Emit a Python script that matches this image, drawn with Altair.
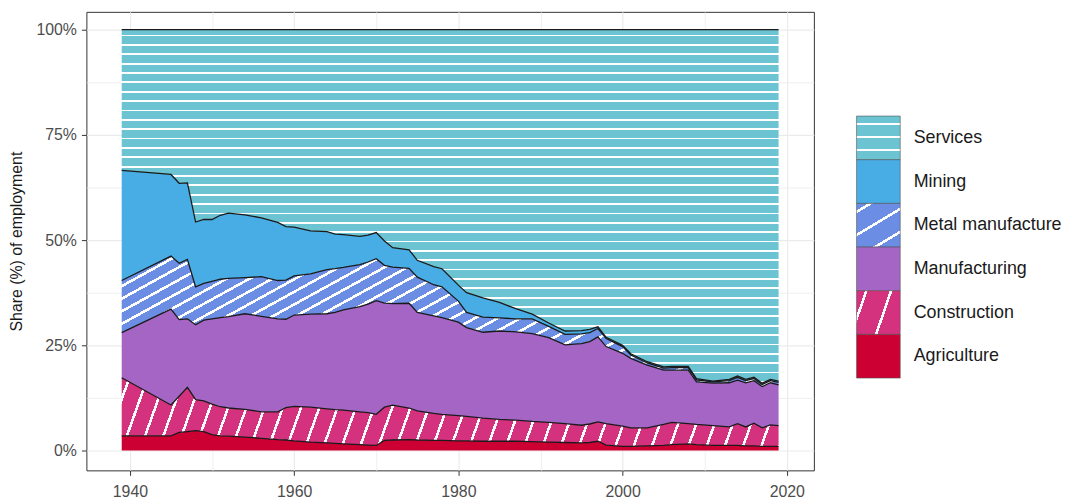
import altair as alt
import pandas as pd
import numpy as np

years = [1939, 1945, 1946, 1947, 1948, 1949, 1950, 1951, 1952, 1954,
         1956, 1958, 1959, 1960, 1962, 1964, 1965, 1966, 1968, 1969,
         1970, 1971, 1972, 1974, 1975, 1977, 1978, 1980, 1981, 1983,
         1985, 1987, 1989, 1991, 1993, 1995, 1996, 1997, 1998, 2000,
         2001, 2003, 2005, 2006, 2008, 2009, 2011, 2013, 2014, 2015,
         2016, 2017, 2018, 2019]

agriculture = [3.5, 3.5, 4.3, 4.5, 4.7, 4.5, 3.8, 3.5, 3.4, 3.2,
               2.9, 2.6, 2.5, 2.3, 2.0, 1.8, 1.7, 1.6, 1.4, 1.3,
               1.2, 2.4, 2.5, 2.6, 2.5, 2.4, 2.4, 2.3, 2.3, 2.2,
               2.2, 2.2, 2.1, 2.0, 1.9, 1.8, 1.9, 2.2, 1.3, 1.0,
               1.0, 1.1, 1.2, 1.4, 1.6, 1.4, 1.2, 1.2, 1.2, 1.1,
               1.1, 1.0, 1.0, 1.0]
construction = [13.8, 7.3, 8.6, 10.5, 7.4, 7.3, 7.2, 6.9, 6.7, 6.6,
                6.3, 6.6, 7.7, 8.2, 8.3, 8.1, 8.0, 8.0, 7.8, 7.7,
                7.4, 7.9, 8.3, 7.5, 6.9, 6.4, 6.2, 6.0, 5.8, 5.5,
                5.2, 5.0, 4.8, 4.7, 4.5, 4.2, 4.4, 4.6, 5.1, 4.8,
                4.4, 4.3, 5.0, 5.3, 4.8, 4.8, 4.7, 4.4, 5.2, 4.5,
                5.4, 4.4, 5.1, 4.9]
manufacturing = [10.7, 22.8, 18.2, 16.3, 17.8, 19.2, 20.3, 21.2, 21.7, 22.7,
                 22.7, 22.1, 21.0, 21.7, 22.1, 22.6, 23.1, 23.8, 25.0, 25.8,
                 27.0, 24.7, 24.1, 24.9, 23.4, 23.2, 23.0, 22.2, 21.1, 20.4,
                 21.0, 21.0, 20.9, 20.1, 18.7, 19.4, 19.6, 20.2, 18.3, 17.3,
                 16.5, 14.9, 12.9, 12.4, 12.7, 10.1, 10.1, 10.5, 10.3, 10.5,
                 10.1, 9.8, 10.0, 9.7]
metal = [12.4, 12.6, 13.4, 14.1, 9.0, 8.7, 8.9, 9.1, 9.1, 8.6,
         9.4, 9.1, 9.3, 9.3, 9.6, 10.5, 10.4, 10.1, 10.0, 10.0,
         10.0, 9.0, 8.7, 8.3, 8.4, 7.4, 7.3, 5.0, 3.6, 3.6,
         3.1, 3.1, 3.5, 2.7, 2.5, 2.3, 2.1, 2.0, 1.9, 1.6,
         0.8, 0.5, 0.5, 0.6, 0.6, 0.5, 0.3, 0.5, 0.7, 0.5,
         0.5, 0.5, 0.5, 0.6]
mining = [26.2, 19.4, 19.0, 18.2, 15.4, 15.2, 14.7, 15.2, 15.5, 14.9,
          14.0, 13.8, 12.7, 11.6, 10.2, 9.0, 8.2, 7.8, 6.7, 6.4,
          6.2, 5.8, 4.6, 4.4, 4.0, 4.3, 4.3, 3.8, 4.7, 4.6,
          3.7, 2.4, 1.1, 0.8, 0.8, 0.8, 0.8, 0.4, 0.3, 0.3,
          0.3, 0.3, 0.3, 0.3, 0.3, 0.3, 0.2, 0.3, 0.3, 0.3,
          0.3, 0.3, 0.3, 0.3]
services = [33.4, 34.4, 36.5, 36.4, 45.7, 45.1, 45.1, 44.1, 43.6, 44.0,
            44.7, 45.8, 46.8, 46.9, 47.8, 48.0, 48.6, 48.7, 49.1, 48.8,
            48.2, 50.2, 51.8, 52.3, 54.8, 56.3, 56.8, 60.7, 62.5, 63.7,
            64.8, 66.3, 67.6, 69.7, 71.6, 71.5, 71.2, 70.6, 73.1, 75.0,
            77.0, 78.9, 80.1, 80.0, 80.0, 82.9, 83.5, 83.1, 82.3, 83.1,
            82.6, 84.0, 83.1, 83.5]

sectors = ["Agriculture", "Construction", "Manufacturing",
           "Metal manufacture", "Mining", "Services"]
series = [agriculture, construction, manufacturing, metal, mining, services]
colors = {"Agriculture": "#cc0033", "Construction": "#d4327f",
          "Manufacturing": "#a565c5", "Metal manufacture": "#6b8de3",
          "Mining": "#48ade4", "Services": "#6cc4d2"}

rows = []
for order, (s, vals) in enumerate(zip(sectors, series)):
    for y, v in zip(years, vals):
        rows.append({"year": y, "sector": s, "value": v, "order": order})
df = pd.DataFrame(rows)

# plot geometry
W_PLOT, H_PLOT = 733, 462
X_DOM = [1934.7, 2023.3]
Y_DOM = [-4.72, 104.25]
ppy = W_PLOT / (X_DOM[1] - X_DOM[0])
ppp = H_PLOT / (Y_DOM[1] - Y_DOM[0])

arr = np.array(series)
tot = arr.sum(axis=0)
cum = np.cumsum(arr, axis=0) / tot * 100.0
lows = np.vstack([np.zeros(len(years)), cum[:-1]])


def stripes(base, nx, ny, period, width, W, H, phase=0.0):
    nrm = (nx * nx + ny * ny) ** 0.5
    nx, ny = nx / nrm, ny / nrm
    L = W * nx + H * ny
    k = L / (W * W * nx * nx + H * H * ny * ny)
    x2, y2 = W * nx * k, H * ny * k
    stops = [alt.GradientStop(color=base, offset=0)]
    s = phase
    while s < L:
        a = round(s / L, 5)
        b = round(min((s + width) / L, 1.0), 5)
        stops += [alt.GradientStop(color=base, offset=a),
                  alt.GradientStop(color="white", offset=a),
                  alt.GradientStop(color="white", offset=b),
                  alt.GradientStop(color=base, offset=b)]
        s += period
    stops.append(alt.GradientStop(color=base, offset=1))
    return alt.Gradient(gradient="linear", x1=0, y1=0,
                        x2=round(x2, 5), y2=round(y2, 5), stops=stops)


def bbox(i):
    W = (years[-1] - years[0]) * ppy
    H = (cum[i].max() - lows[i].min()) * ppp
    return W, H


fills = {}
for i, s in enumerate(sectors):
    W, H = bbox(i)
    if s == "Services":
        fills[s] = stripes(colors[s], 0, 1, 9.43, 1.8, W, H, 5)
    elif s == "Metal manufacture":
        fills[s] = stripes(colors[s], 0.55, 1, 11.1, 2.6, W, H, 3)
    elif s == "Construction":
        fills[s] = stripes(colors[s], 2.8, 1, 17.3, 2.6, W, H, 6)
    else:
        fills[s] = colors[s]

x_enc = alt.X("year:Q", scale=alt.Scale(domain=X_DOM, nice=False, zero=False),
              axis=alt.Axis(values=list(range(1940, 2021, 10)), format="d",
                            labelExpr="datum.value % 20 == 0 ? datum.label : ''",
                            title=None, domain=False, tickSize=5,
                            tickColor={"condition": {"test": "datum.value % 20 == 0", "value": "#333333"},
                                       "value": "transparent"},
                            gridColor="#ebebeb",
                            gridWidth={"condition": {"test": "datum.value % 20 == 0", "value": 1.2},
                                       "value": 0.8},
                            labelFontSize=16, labelColor="#4d4d4d", labelPadding=8,
                            labelFont="Liberation Sans"))
y_scale = alt.Scale(domain=Y_DOM, nice=False, zero=False)
y_axis = alt.Axis(values=[v * 12.5 for v in range(9)],
                  labelExpr="datum.value % 25 == 0 ? datum.value + '%' : ''",
                  domain=False, tickSize=5,
                  tickColor={"condition": {"test": "datum.value % 25 == 0", "value": "#333333"},
                             "value": "transparent"},
                  gridColor="#ebebeb",
                  gridWidth={"condition": {"test": "datum.value % 25 == 0", "value": 1.2},
                             "value": 0.8},
                  labelFontSize=16, labelColor="#4d4d4d", labelPadding=5,
                  labelFont="Liberation Sans",
                  title="Share (%) of employment", titleFontSize=16,
                  titleFontWeight="normal", titleColor="#1a1a1a",
                  titleFont="Liberation Sans", titlePadding=11)

layers = []
for i, s in enumerate(sectors):
    enc = dict(x=x_enc, y=alt.Y("hi:Q", scale=y_scale, axis=y_axis), y2="lo:Q")
    layers.append(alt.Chart().transform_filter(alt.datum.sector == s)
                  .mark_area(fill=fills[s], opacity=1)
                  .encode(**enc))
lines = alt.Chart().mark_line(color="#1a1a1a", strokeWidth=1.3).encode(
    x=x_enc, y=alt.Y("hi:Q", scale=y_scale, axis=y_axis), detail="sector:N")

main = (alt.layer(*layers, lines, data=df)
        .transform_stack(stack="value", groupby=["year"], as_=["y0", "y1"],
                         offset="normalize", sort=[alt.SortField("order", order="ascending")])
        .transform_calculate(lo="datum.y0 * 100", hi="datum.y1 * 100")
        .properties(width=W_PLOT, height=H_PLOT,
                    view=alt.ViewBackground(stroke="#333333", strokeWidth=1)))

# legend
legend_order = sectors[::-1]
leg_df = pd.DataFrame({"sector": legend_order})
SW = 44
leg_fills = {}
for s in legend_order:
    if s == "Services":
        leg_fills[s] = stripes(colors[s], 0, 1, 13.3, 1.7, SW, SW, 7)
    elif s == "Metal manufacture":
        leg_fills[s] = stripes(colors[s], 0.6, 1, 20, 2.6, SW, SW, 6)
    elif s == "Construction":
        leg_fills[s] = stripes(colors[s], 2.9, 1, 23.6, 2.6, SW, SW, 8)
    else:
        leg_fills[s] = colors[s]

LEG_TOP = 105
leg_scale = alt.Scale(domain=legend_order, range=[LEG_TOP, LEG_TOP + 6 * SW],
                      paddingInner=0, paddingOuter=0)
leg_axis = alt.Axis(orient="right", ticks=False, domain=False, labelPadding=13,
                    labelFontSize=18, labelColor="#1a1a1a", labelFont="Liberation Sans",
                    title=None, grid=False)
leg_layers = []
for s in legend_order:
    leg_layers.append(alt.Chart().transform_filter(alt.datum.sector == s)
                      .mark_rect(fill=leg_fills[s], stroke="#555555", strokeWidth=0.6)
                      .encode(y=alt.Y("sector:N", scale=leg_scale, axis=leg_axis, sort=legend_order),
                              x=alt.value(0), x2=alt.value(SW)))
legend = alt.layer(*leg_layers, data=leg_df).properties(
    width=SW, height=H_PLOT, view=alt.ViewBackground(stroke="transparent"))

chart = (alt.hconcat(main, legend, spacing=41)
         .properties(padding={"left": 0, "top": 1, "right": 0, "bottom": 0})
         .configure_view(stroke="transparent")
         .configure(font="Liberation Sans"))

chart.save("out.html", embed_options={"renderer": "svg", "actions": False})
